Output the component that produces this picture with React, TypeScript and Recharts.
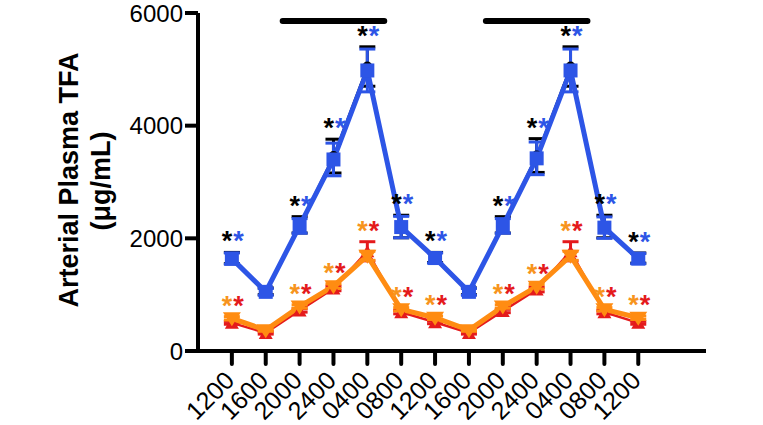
import React from "react";
import { LineChart, Line, XAxis, YAxis, ErrorBar, LabelList, ReferenceLine } from "recharts";

const timeLabels = ["1200", "1600", "2000", "2400", "0400", "0800", "1200", "1600", "2000", "2400", "0400", "0800", "1200"];

const blueMean = [1640, 1050, 2220, 3400, 4980, 2200, 1650, 1050, 2220, 3420, 4980, 2190, 1640];
const blueSem = [100, 60, 130, 290, 380, 190, 90, 60, 130, 290, 380, 190, 90];
const blackMean = [1650, 1060, 2240, 3460, 5050, 2210, 1660, 1060, 2240, 3470, 5050, 2210, 1650];
const blackSem = [100, 60, 145, 300, 350, 200, 90, 60, 145, 300, 350, 200, 90];

const orangeMean = [580, 370, 790, 1150, 1690, 740, 590, 370, 790, 1140, 1690, 740, 590];
const orangeSem = [30, 20, 30, 40, 80, 30, 30, 20, 30, 40, 80, 30, 30];
const redMean = [500, 320, 720, 1110, 1770, 690, 510, 320, 710, 1090, 1770, 690, 500];
const redSem = [25, 20, 30, 40, 170, 30, 25, 20, 30, 40, 170, 30, 25];

const sigBlue = [true, false, true, true, true, true, true, false, true, true, true, true, true];
const sigOrange = [true, false, true, true, true, true, true, false, true, true, true, true, true];

const darkStart = [1.5, 7.5];
const darkEnd = [4.5, 10.5];
const darkBarLevel = 5860;

const yTicks = [0, 2000, 4000, 6000];
const xTicks = timeLabels.map((_, i) => i);

const data = timeLabels.map((t, i) => ({
  i,
  label: t,
  blue: blueMean[i],
  blueErr: blueSem[i],
  black: blackMean[i],
  blackErr: blackSem[i],
  orange: orangeMean[i],
  orangeErr: orangeSem[i],
  red: redMean[i],
  redErr: redSem[i],
  blueStar: sigBlue[i] ? Math.max(blueMean[i] + blueSem[i], blackMean[i] + blackSem[i]) : null,
  orangeStar: sigOrange[i] ? Math.max(orangeMean[i] + orangeSem[i], redMean[i] + redSem[i]) : null,
}));

const FONT = "'Liberation Sans', Arial, Helvetica, sans-serif";
const BLUE = "#2D55E6";
const ORANGE = "#FF8C12";
const RED = "#E41A1C";
const STAR_ORANGE = "#F7941D";

const SquareDot = (p: any) => {
  if (p.cx == null || p.cy == null) return <g key={`sq${p.index}`} />;
  return <rect key={`sq${p.index}`} x={p.cx - 7} y={p.cy - 7} width={14} height={14} fill={BLUE} />;
};
const CircleDot = (p: any) => {
  if (p.cx == null || p.cy == null) return <g key={`ci${p.index}`} />;
  return <circle key={`ci${p.index}`} cx={p.cx} cy={p.cy} r={5} fill="#000" />;
};
const TriDown = (p: any) => {
  if (p.cx == null || p.cy == null) return <g key={`td${p.index}`} />;
  const { cx, cy } = p;
  return <polygon key={`td${p.index}`} points={`${cx - 9},${cy - 6} ${cx + 9},${cy - 6} ${cx},${cy + 8}`} fill={ORANGE} />;
};
const TriUp = (p: any) => {
  if (p.cx == null || p.cy == null) return <g key={`tu${p.index}`} />;
  const { cx, cy } = p;
  return <polygon key={`tu${p.index}`} points={`${cx - 7},${cy + 6} ${cx + 7},${cy + 6} ${cx},${cy - 6}`} fill={RED} />;
};

const makeStars = (c1: string, c2: string) => (props: any) => {
  const { x, y, value, index } = props;
  if (value == null || x == null || y == null || isNaN(y)) return null;
  return (
    <text key={`st${index}`} x={x + 1} y={y - 2} textAnchor="middle" fontSize={27} fontWeight="bold" fontFamily={FONT}>
      <tspan fill={c1}>*</tspan>
      <tspan fill={c2} dx={1}>*</tspan>
    </text>
  );
};

const XTick = (props: any) => {
  const { x, y, payload } = props;
  return (
    <g transform={`translate(${x + 4},${y + 18}) rotate(-45)`}>
      <text x={0} y={0} textAnchor="end" fontSize={25} fontFamily={FONT} fill="#000">
        {timeLabels[payload.value]}
      </text>
    </g>
  );
};

const YLabel = () => (
  <g>
    <text transform="translate(78,180) rotate(-90)" textAnchor="middle" fontSize={27} fontWeight="bold" fontFamily={FONT} fill="#000">
      Arterial Plasma TFA
    </text>
    <text transform="translate(110,181) rotate(-90)" textAnchor="middle" fontSize={27} fontWeight="bold" fontFamily={FONT} fill="#000">
      (μg/mL)
    </text>
  </g>
);

export default function App() {
  return (
    <div style={{ position: "absolute", left: 0, top: 0, width: 763, height: 425, background: "#fff" }}>
      <LineChart width={763} height={425} data={data} margin={{ top: 13, right: 57, bottom: 0, left: 0 }}>
        <XAxis
          type="number"
          dataKey="i"
          domain={[-1, 14]}
          ticks={xTicks}
          interval={0}
          tickSize={13}
          tickMargin={0}
          height={74}
          tick={<XTick />}
          axisLine={{ stroke: "#000", strokeWidth: 4 }}
          tickLine={{ stroke: "#000", strokeWidth: 4, strokeLinecap: "round" }}
        />
        <YAxis
          type="number"
          domain={[0, 6000]}
          ticks={yTicks}
          interval={0}
          width={198}
          tickSize={13}
          tickMargin={2}
          tick={{ fill: "#000", fontSize: 24, fontFamily: FONT }}
          axisLine={{ stroke: "#000", strokeWidth: 4 }}
          tickLine={{ stroke: "#000", strokeWidth: 4 }}
          label={<YLabel />}
        />
        {darkStart.map((s, k) => (
          <ReferenceLine
            key={`dark${k}`}
            segment={[{ x: s, y: darkBarLevel }, { x: darkEnd[k], y: darkBarLevel }]}
            stroke="#000"
            strokeWidth={6}
            strokeLinecap="round"
          />
        ))}
        <Line type="linear" dataKey="black" stroke="#000" strokeWidth={2} dot={CircleDot} activeDot={false} isAnimationActive={false}>
          <ErrorBar dataKey="blackErr" direction="y" width={8} strokeWidth={3} stroke="#000" />
        </Line>
        <Line type="linear" dataKey="blue" stroke={BLUE} strokeWidth={5} dot={SquareDot} activeDot={false} isAnimationActive={false}>
          <ErrorBar dataKey="blueErr" direction="y" width={8} strokeWidth={3} stroke={BLUE} />
        </Line>
        <Line type="linear" dataKey="red" stroke={RED} strokeWidth={2.5} dot={TriUp} activeDot={false} isAnimationActive={false}>
          <ErrorBar dataKey="redErr" direction="y" width={8} strokeWidth={3} stroke={RED} />
        </Line>
        <Line type="linear" dataKey="orange" stroke={ORANGE} strokeWidth={5} dot={TriDown} activeDot={false} isAnimationActive={false}>
          <ErrorBar dataKey="orangeErr" direction="y" width={8} strokeWidth={3} stroke={ORANGE} />
        </Line>
        <Line type="linear" dataKey="blueStar" stroke="none" dot={false} activeDot={false} isAnimationActive={false} connectNulls={false}>
          <LabelList dataKey="blueStar" content={makeStars("#000", BLUE)} />
        </Line>
        <Line type="linear" dataKey="orangeStar" stroke="none" dot={false} activeDot={false} isAnimationActive={false} connectNulls={false}>
          <LabelList dataKey="orangeStar" content={makeStars(STAR_ORANGE, RED)} />
        </Line>
      </LineChart>
    </div>
  );
}
